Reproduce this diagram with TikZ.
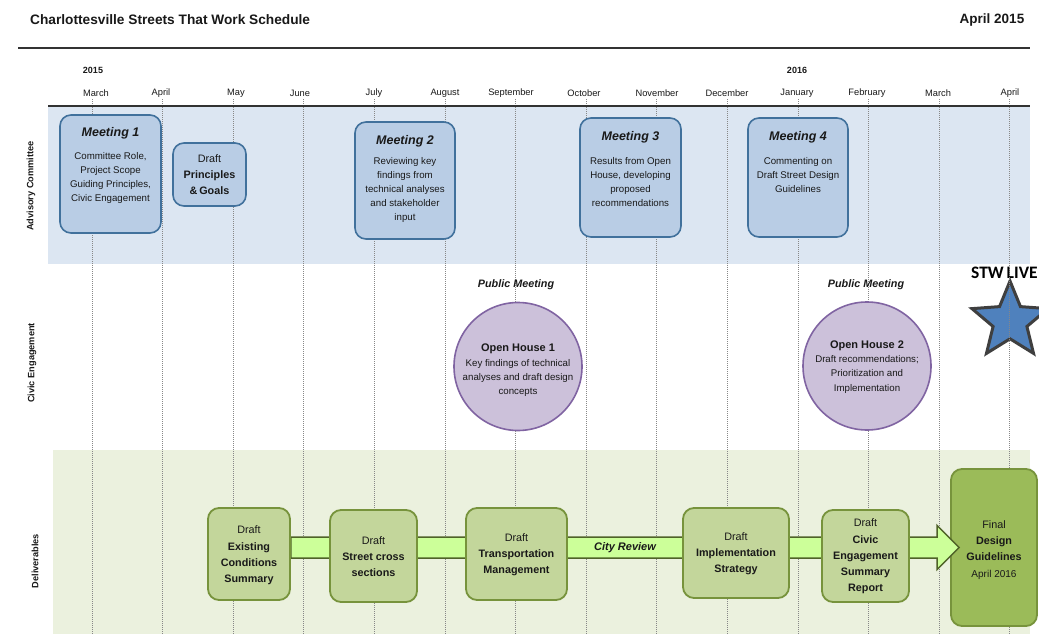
\documentclass[tikz,border=0pt]{standalone}
\usepackage{fontspec}
\setmainfont{Liberation Sans}
\newfontfamily\calibrifont{Carlito}
\usetikzlibrary{shapes.geometric,calc}

\definecolor{bandblue}{RGB}{220,230,242}
\definecolor{bandgreen}{RGB}{235,241,222}
\definecolor{meetfill}{RGB}{185,205,229}
\definecolor{meetline}{RGB}{65,113,156}
\definecolor{ohfill}{RGB}{204,193,218}
\definecolor{ohline}{RGB}{128,100,162}
\definecolor{delfill}{RGB}{195,214,155}
\definecolor{delline}{RGB}{119,147,60}
\definecolor{finfill}{RGB}{155,187,89}
\definecolor{barfill}{RGB}{204,255,153}
\definecolor{barline}{RGB}{79,98,40}
\definecolor{starfill}{RGB}{79,129,189}
\definecolor{starline}{RGB}{63,63,63}
\definecolor{ink}{RGB}{25,25,25}
\definecolor{rule}{RGB}{50,50,50}
\definecolor{gridgray}{RGB}{135,135,135}

\newcommand{\fsz}[2]{\fontsize{#1}{#2}\selectfont}

\pgfdeclarelayer{back}
\pgfdeclarelayer{mid}
\pgfsetlayers{back,mid,main}

\begin{document}
\begin{tikzpicture}[x=1pt,y=-1pt,
  every node/.style={text=ink,inner sep=0pt},
  mbox/.style={draw=meetline,fill=meetfill,line width=1.6pt,rounded corners=11pt},
  mtitle/.style={font=\fsz{12.5}{14}\bfseries\itshape},
  mbody/.style={font=\fsz{9.7}{14},align=center},
  ohcircle/.style={circle,draw=ohline,fill=ohfill,line width=1.6pt},
  ohtext/.style={font=\fsz{9.7}{14.3},align=center},
  pubmeet/.style={font=\fsz{10.8}{13}\bfseries\itshape},
  dbox/.style={draw=delline,fill=delfill,line width=1.8pt,rounded corners=11pt},
  dtext/.style={font=\fsz{10.8}{16.2},align=center},
  month/.style={font=\fsz{9.3}{11}},
  year/.style={font=\fsz{9}{11}\bfseries},
  rowlabel/.style={font=\fsz{9.2}{11}\bfseries,rotate=90},
  gridline/.style={draw=gridgray,line width=0.8pt,dash pattern=on 1.2pt off 0.8pt},
  barstyle/.style={draw=barline,fill=barfill,line width=1.5pt,line join=miter}]
\useasboundingbox (0,0) rectangle (1039,634);

\begin{pgfonlayer}{back}
\fill[white] (0,0) rectangle (1039,634);
% row bands
\fill[bandblue] (48,107) rectangle (1030,264);
\fill[bandgreen] (53,450) rectangle (1030,634);
% the star sits under the month grid
\node[star,star points=5,star point ratio=2.25,minimum size=80pt,draw=starline,fill=starfill,line width=3pt,line join=miter] (star) at (1010,321) {};
\node[font=\calibrifont\bfseries\fsz{17.5}{19},anchor=west,text=black] (live) at (971,273) {STW\,LIVE};
% month grid
\foreach \k in {0,...,13} {
  \draw[gridline] ({92+70.6*\k},99) -- ({92+70.6*\k},634);
}
\end{pgfonlayer}

% header
\node[font=\fsz{13.7}{16}\bfseries,anchor=west] (title) at (30,20) {Charlottesville Streets That Work Schedule};
\node[font=\fsz{13.5}{16}\bfseries] (date) at (992,20) {April 2015};
\draw[rule,line width=2pt] (18,48) -- (1030,48);
\draw[rule,line width=2.4pt] (48,106) -- (1030,106);

% timeline labels
\node[year] (y15) at (93,70) {2015};
\node[year] (y16) at (797,70) {2016};
\foreach \name/\xx in {March/96,April/161,May/236,June/300,July/374,August/445,September/511,October/584,November/657,December/727,January/797,February/867,March/938,April/1010} {
  \node[month] at (\xx,93) {\name};
}

% row labels
\node[rowlabel] (labA) at (31,186) {Advisory Committee};
\node[rowlabel] (labC) at (32,363) {Civic Engagement};
\node[rowlabel] (labD) at (35,561) {Deliverables};

% advisory committee
\node[mbox,minimum width=101pt,minimum height=118pt] (m1) at (110.5,174) {};
\node[mtitle] (m1t) at (110.5,133) {Meeting 1};
\node[mbody] (m1b) at (110.5,178) {Committee Role,\\Project Scope\\Guiding Principles,\\Civic Engagement};

\node[mbox,minimum width=73pt,minimum height=63pt] (pg) at (209.5,174.5) {};
\node[font=\fsz{10.8}{16},align=center] (pgt) at (209.5,175) {Draft\\\textbf{Principles}\\\textbf{\&\,Goals}};

\node[mbox,minimum width=100pt,minimum height=117pt] (m2) at (405,180.5) {};
\node[mtitle] (m2t) at (405,141) {Meeting 2};
\node[mbody] (m2b) at (405,190) {Reviewing key\\findings from\\technical analyses\\and stakeholder\\input};

\node[mbox,minimum width=101pt,minimum height=119pt] (m3) at (630.5,177.5) {};
\node[mtitle] (m3t) at (630.5,137) {Meeting 3};
\node[mbody] (m3b) at (630.5,182) {Results from Open\\House, developing\\proposed\\recommendations};

\node[mbox,minimum width=100pt,minimum height=119pt] (m4) at (798,177.5) {};
\node[mtitle] (m4t) at (798,137) {Meeting 4};
\node[mbody] (m4b) at (798,175) {Commenting on\\Draft Street Design\\Guidelines};

% civic engagement
\node[pubmeet] (pm1) at (516,285) {Public Meeting};
\node[ohcircle,minimum size=128pt] (oh1) at (518,366.5) {};
\node[ohtext] (oh1t) at (518,370.5) {\textbf{\fsz{11}{14.3}Open House 1}\\Key findings of technical\\analyses and draft design\\concepts};

\node[pubmeet] (pm2) at (866,285) {Public Meeting};
\node[ohcircle,minimum size=128pt] (oh2) at (867,366) {};
\node[ohtext] (oh2t) at (867,367) {\textbf{\fsz{11}{14.3}Open House 2}\\Draft recommendations;\\Prioritization and\\Implementation};

% deliverables
\node[dbox,minimum width=82pt,minimum height=92pt] (d1) at (249,554) {};
\node[dtext] (d1t) at (249,555.5) {Draft\\\textbf{Existing}\\\textbf{Conditions}\\\textbf{Summary}};

\node[dbox,minimum width=87pt,minimum height=92pt] (d2) at (373.5,556) {};
\node[dtext] (d2t) at (373.5,556.5) {Draft\\\textbf{Street cross}\\\textbf{sections}};

\node[dbox,minimum width=101pt,minimum height=92pt] (d3) at (516.5,554) {};
\node[dtext] (d3t) at (516.5,554.5) {Draft\\\textbf{Transportation}\\\textbf{Management}};

\node[dbox,minimum width=106pt,minimum height=90pt] (d4) at (736,553) {};
\node[dtext] (d4t) at (736,554) {Draft\\\textbf{Implementation}\\\textbf{Strategy}};

\node[dbox,minimum width=87pt,minimum height=92pt] (d5) at (865.5,556) {};
\node[dtext] (d5t) at (865.5,556.5) {Draft\\\textbf{Civic}\\\textbf{Engagement}\\\textbf{Summary}\\\textbf{Report}};

\begin{pgfonlayer}{mid}
\node[dbox,fill=finfill,minimum width=86pt,minimum height=157pt] (fin) at (994,547.5) {};
% schedule bar from the first deliverable into the final one
\coordinate (atail) at (d1.east |- fin.west);
\coordinate (atip) at ($(fin.west)+(9,0)$);
\draw[barstyle] ($(atail)+(0,-10.5)$) -- ($(atip)+(-22,-10.5)$) -- ($(atip)+(-22,-22)$) -- (atip)
  -- ($(atip)+(-22,22)$) -- ($(atip)+(-22,10.5)$) -- ($(atail)+(0,10.5)$) -- cycle;
\end{pgfonlayer}
\node[font=\fsz{11}{13}\bfseries\itshape] (review) at (625,548) {City Review};
\node[dtext] (fint) at (994,550) {Final\\\textbf{Design}\\\textbf{Guidelines}\\{\fsz{10}{15}April 2016}};
\end{tikzpicture}
\end{document}
